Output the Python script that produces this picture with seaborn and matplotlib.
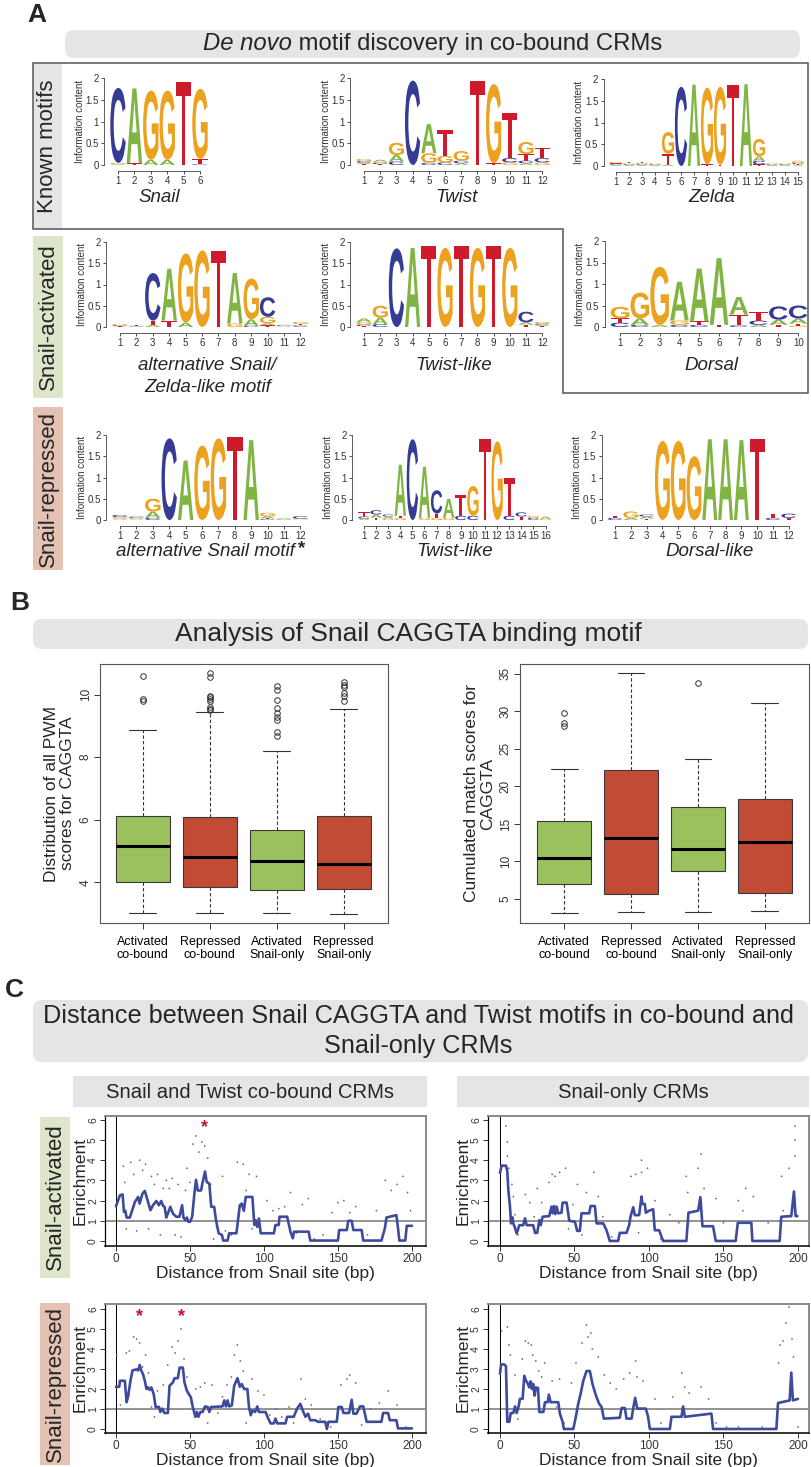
import numpy as np
import pandas as pd
import matplotlib
matplotlib.use("Agg")
import matplotlib.pyplot as plt
import seaborn as sns
from matplotlib.patches import FancyBboxPatch, Rectangle, PathPatch, Polygon
from matplotlib.textpath import TextPath
from matplotlib.font_manager import FontProperties
import matplotlib.transforms as mtransforms

# ------------------------------------------------------------------ data
# Panel A: sequence logos (information content per base and position)
logo_snail = {"A": [0.02, 1.72, 0.12, 0.12, 0.0, 0.0],
              "C": [1.72, 0.0, 0.0, 0.0, 0.0, 0.02],
              "G": [0.03, 0.0, 1.59, 1.59, 0.0, 1.61],
              "T": [0.0, 0.04, 0.0, 0.0, 1.90, 0.12]}
logo_twist = {"A": [0.03, 0.04, 0.15, 0.0, 0.67, 0.0, 0.04, 0.0, 0.0, 0.0, 0.04, 0.0],
              "C": [0.04, 0.03, 0.08, 1.94, 0.05, 0.06, 0.06, 0.0, 0.0, 0.10, 0.06, 0.10],
              "G": [0.05, 0.03, 0.28, 0.0, 0.22, 0.15, 0.22, 0.0, 1.82, 0.06, 0.28, 0.06],
              "T": [0.02, 0.02, 0.0, 0.0, 0.0, 0.60, 0.0, 1.93, 0.04, 1.03, 0.15, 0.24]}
logo_zelda = {"A": [0.02, 0.02, 0.02, 0.02, 0.03, 0.0, 1.87, 0.0, 0.0, 0.0, 1.88, 0.10, 0.02, 0.02, 0.02],
              "C": [0.02, 0.02, 0.02, 0.02, 0.0, 1.82, 0.0, 0.0, 0.0, 0.0, 0.0, 0.08, 0.02, 0.02, 0.03],
              "G": [0.03, 0.02, 0.03, 0.02, 0.50, 0.0, 0.0, 1.76, 1.79, 0.0, 0.0, 0.40, 0.02, 0.02, 0.05],
              "T": [0.02, 0.03, 0.03, 0.02, 0.25, 0.0, 0.0, 0.04, 0.03, 1.87, 0.0, 0.04, 0.02, 0.02, 0.02]}
logo_act_alt = {"A": [0.01, 0.01, 0.05, 1.22, 0.10, 0.0, 0.0, 1.19, 0.15, 0.05, 0.01, 0.01],
                "C": [0.02, 0.01, 1.12, 0.0, 0.0, 0.0, 0.0, 0.0, 0.03, 0.46, 0.02, 0.03],
                "G": [0.03, 0.01, 0.0, 0.0, 1.63, 1.80, 0.0, 0.08, 0.96, 0.15, 0.01, 0.05],
                "T": [0.01, 0.01, 0.10, 0.15, 0.0, 0.0, 1.80, 0.0, 0.0, 0.04, 0.01, 0.03]}
logo_act_twist = {"A": [0.08, 0.15, 0.0, 1.86, 0.0, 0.0, 0.0, 0.0, 0.0, 0.0, 0.06, 0.03],
                  "C": [0.04, 0.07, 1.85, 0.0, 0.0, 0.0, 0.0, 0.0, 0.0, 0.0, 0.25, 0.03],
                  "G": [0.06, 0.28, 0.0, 0.0, 0.0, 1.86, 0.0, 1.86, 0.0, 1.86, 0.0, 0.04],
                  "T": [0.02, 0.0, 0.0, 0.0, 1.90, 0.0, 1.90, 0.0, 1.90, 0.0, 0.05, 0.02]}
logo_dorsal = {"A": [0.0, 0.15, 0.05, 0.90, 1.23, 1.55, 0.41, 0.05, 0.12, 0.12],
               "C": [0.10, 0.05, 0.0, 0.05, 0.05, 0.0, 0.04, 0.10, 0.31, 0.30],
               "G": [0.27, 0.60, 1.35, 0.10, 0.0, 0.0, 0.0, 0.0, 0.0, 0.03],
               "T": [0.10, 0.0, 0.0, 0.0, 0.08, 0.05, 0.25, 0.20, 0.05, 0.05]}
logo_rep_alt = {"A": [0.02, 0.02, 0.15, 0.0, 1.40, 0.0, 0.0, 0.0, 1.88, 0.05, 0.02, 0.0],
                "C": [0.05, 0.03, 0.05, 1.92, 0.0, 0.0, 0.0, 0.0, 0.0, 0.02, 0.01, 0.06],
                "G": [0.04, 0.02, 0.30, 0.0, 0.0, 1.75, 1.92, 0.0, 0.0, 0.08, 0.01, 0.02],
                "T": [0.01, 0.01, 0.0, 0.0, 0.0, 0.0, 0.0, 1.95, 0.0, 0.02, 0.01, 0.01]}
logo_rep_twist = {"A": [0.03, 0.08, 0.05, 1.20, 0.0, 1.20, 0.0, 0.45, 0.0, 0.0, 0.0, 0.0, 0.0, 0.0, 0.0, 0.05],
                  "C": [0.05, 0.10, 0.05, 0.0, 1.90, 0.0, 0.55, 0.0, 0.10, 0.10, 0.0, 0.0, 0.10, 0.10, 0.05, 0.0],
                  "G": [0.0, 0.0, 0.03, 0.05, 0.0, 0.05, 0.05, 0.05, 0.0, 0.70, 0.0, 1.85, 0.0, 0.0, 0.05, 0.03],
                  "T": [0.10, 0.05, 0.0, 0.05, 0.0, 0.0, 0.10, 0.0, 0.50, 0.0, 1.90, 0.0, 0.90, 0.08, 0.0, 0.0]}
logo_rep_dorsal = {"A": [0.0, 0.05, 0.05, 0.0, 0.0, 0.0, 1.90, 1.90, 1.88, 0.0, 0.0, 0.0],
                   "C": [0.05, 0.0, 0.05, 0.0, 0.0, 0.0, 0.0, 0.0, 0.0, 0.0, 0.05, 0.10],
                   "G": [0.0, 0.15, 0.0, 1.86, 1.86, 1.50, 0.0, 0.0, 0.0, 0.0, 0.0, 0.0],
                   "T": [0.05, 0.0, 0.03, 0.0, 0.0, 0.0, 0.0, 0.0, 0.0, 1.90, 0.10, 0.05]}

# Panel B: box plot statistics
box_groups = ["Activated\nco-bound", "Repressed\nco-bound", "Activated\nSnail-only", "Repressed\nSnail-only"]
pwm_whislo = [3.02, 3.02, 3.02, 3.00]
pwm_q1 = [4.00, 3.85, 3.75, 3.78]
pwm_med = [5.15, 4.82, 4.67, 4.60]
pwm_q3 = [6.13, 6.10, 5.68, 6.13]
pwm_whishi = [8.86, 9.46, 8.19, 9.55]
pwm_fliers = [[10.60, 9.85, 9.80],
              [10.70, 10.57, 9.97, 9.92, 9.86, 9.80, 9.60, 9.55, 9.50],
              [10.27, 10.16, 9.84, 9.58, 9.40, 9.27, 9.20, 8.80, 8.68],
              [10.42, 10.32, 10.25, 10.06, 9.95, 9.79]]
cum_whislo = [3.1, 3.2, 3.2, 3.4]
cum_q1 = [7.0, 5.67, 8.7, 5.84]
cum_med = [10.5, 13.1, 11.65, 12.6]
cum_q3 = [15.4, 22.2, 17.3, 18.3]
cum_whishi = [22.3, 35.1, 23.6, 31.1]
cum_fliers = [[29.8, 28.5, 28.0], [], [33.8], []]

# Panel C: enrichment vs distance (running line + individual points)
act_co_bp = [0, 2.7, 4.5, 5.4, 6.3, 7.2, 9.4, 12.8, 15, 16, 17.9, 19.5, 21.7, 23.3, 25, 27.3, 29, 30.6, 31.8, 32.9,
             34, 35.1, 36.7, 38.5, 40.7, 42.9, 44.7, 45.6, 47, 47.9, 48.8, 50.1, 51.5, 53, 54.1, 55.3, 57.5, 58.6,
             60.2, 61.3, 63.1, 64.4, 66.4, 67.6, 69.4, 71.6, 72.5, 75.4, 76.5, 81.4, 83.7, 85, 86.4, 87.7, 92.2,
             93.5, 94.4, 95.5, 96.6, 97.8, 106.7, 107.8, 110, 110.5, 115.7, 117.9, 119.5, 120.4, 130.2, 131.3,
             150, 150.8, 156, 157, 159.3, 160.4, 166, 167.1, 179.4, 181.7, 182.8, 189.5, 190.6, 191.5, 195.5,
             196.5, 200]
act_co_enr = [1.72, 2.26, 2.3, 1.44, 1.5, 1.16, 1.16, 1.93, 2.18, 1.85, 2.34, 2.48, 1.93, 1.52, 1.77, 1.98, 1.77,
              1.98, 1.74, 1.69, 1.16, 1.36, 1.69, 1.36, 1.2, 1.2, 1.77, 1.16, 1.03, 1.16, 0.95, 0.95, 1.2, 2.34,
              3.03, 2.5, 2.5, 2.92, 3.44, 2.92, 2.84, 1.69, 1.69, 1.03, 0.38, 0.3, 0.02, 0.02, 0.38, 0.38, 1.77,
              1.85, 1.49, 2.18, 2.18, 0.79, 1.03, 0.7, 1.11, 0.38, 0.38, 0.79, 0.79, 1.2, 1.2, 0.46, 0.13, 0.46,
              0.46, 0.02, 0.02, 0.54, 0.54, 1.0, 1.0, 0.54, 0.54, 0.02, 0.02, 0.62, 1.16, 1.28, 0.62, 0.02, 0.02,
              0.75, 0.75]
act_co_pts_bp = [5, 6, 7, 10, 12, 14, 16, 18, 20, 22, 24, 26, 28, 30, 32, 34, 36, 38, 40, 42, 44, 47, 48, 50, 52,
                 54, 56, 58, 60, 62, 64, 66, 68, 72, 74, 78, 82, 86, 88, 90, 92, 95, 98, 102, 106, 110, 114, 118,
                 122, 126, 130, 134, 140, 146, 150, 154, 158, 162, 166, 170, 176, 182, 186, 190, 194, 197, 199]
act_co_pts_enr = [3.7, 2.9, 0.6, 3.9, 3.3, 0.5, 4.0, 3.5, 3.8, 0.6, 3.2, 2.8, 3.3, 0.3, 2.6, 3.0, 2.6, 3.1, 0.3,
                  2.8, 0.2, 2.5, 3.6, 2.9, 4.8, 5.2, 4.4, 4.9, 4.7, 4.1, 2.8, 0.1, 0.7, 3.2, 0.5, 0.3, 3.9, 3.8,
                  2.5, 3.3, 0.6, 3.2, 0.4, 2.0, 1.5, 1.6, 1.7, 2.4, 0.4, 1.8, 2.1, 0.1, 0.3, 1.4, 1.9, 2.0, 1.4,
                  1.7, 0.5, 0.3, 1.5, 3.0, 2.5, 2.8, 3.2, 2.4, 1.5]

act_only_bp = [0, 1.1, 4, 4.9, 5.6, 6.7, 7.4, 8.3, 8.9, 10, 11.2, 13, 15.6, 16.8, 17.9, 22.3, 23.5, 25, 26.4, 27.3,
               28.6, 33, 34.6, 35.3, 36.2, 37.1, 38, 39.1, 41.3, 42, 44.7, 46.5, 50.3, 51.8, 53.6, 54.7, 59.9, 60.8,
               63.7, 64.8, 69.3, 71.5, 73.7, 79.3, 80.4, 84.9, 86.7, 87.6, 89.4, 90.5, 93.4, 95, 95.6, 97.2, 97.9,
               100.1, 102.8, 103.9, 106.8, 109.5, 125.1, 126.5, 133, 134.5, 135.9, 143, 144.8, 158.2, 159.6, 168.7,
               169.4, 187.7, 188.8, 195.5, 197.3, 198.4, 199.6]
act_only_enr = [3.37, 3.73, 3.73, 3.45, 2.53, 1.7, 0.87, 1.17, 0.87, 0.67, 0.37, 0.78, 0.78, 1.12, 0.78, 0.78,
                0.4, 0.4, 1.03, 0.78, 1.2, 1.23, 1.7, 1.37, 1.73, 1.33, 1.7, 1.37, 1.4, 1.9, 1.9, 1.0, 0.95, 0.5,
                0.5, 1.37, 1.37, 1.73, 1.73, 0.87, 0.87, 0.53, 0.0, 0.0, 0.4, 0.4, 0.78, 1.2, 1.67, 1.28, 1.28,
                2.2, 1.83, 1.83, 1.4, 1.5, 1.57, 0.53, 0.53, 0.0, 0.0, 1.4, 1.5, 2.17, 0.73, 0.73, 0.0, 0.0, 0.9,
                0.9, 0.0, 0.0, 1.2, 1.23, 2.45, 1.23, 1.23]
act_only_pts_bp = [4, 5, 5, 6, 8, 9, 10, 12, 17, 20, 23, 25, 28, 33, 35, 37, 40, 44, 46, 49, 52, 55, 58, 63, 66,
                   69, 75, 80, 88, 91, 93, 95, 95, 99, 104, 108, 114, 120, 125, 126, 133, 135, 137, 145, 150, 160,
                   163, 165, 170, 180, 189, 190, 194, 198, 198, 198]
act_only_pts_enr = [5.7, 4.9, 4.2, 3.6, 2.8, 2.2, 1.3, 0.3, 2.3, 1.9, 1.2, 2.6, 1.9, 2.9, 3.3, 3.2, 3.4, 3.6, 0.6,
                    1.8, 2.8, 0.3, 2.4, 3.4, 2.2, 1.2, 0.2, 0.1, 3.2, 3.3, 0.4, 3.4, 4.0, 3.6, 2.0, 0.1, 1.3, 0.9,
                    3.2, 2.4, 3.6, 4.3, 2.6, 2.1, 0.9, 2.0, 1.5, 2.6, 2.2, 0.9, 3.2, 1.5, 3.6, 4.2, 5.0, 5.7]

rep_co_bp = [0, 2.2, 2.7, 6, 7.2, 8.3, 9.8, 11.2, 13.9, 15, 16.1, 17.2, 18.3, 19.5, 20.6, 21.7, 22.8, 23.9, 25.5,
             26.8, 29.1, 30, 31.3, 32.7, 35.1, 36.2, 38.5, 39.6, 41.8, 43, 45.2, 46.3, 47.9, 49.2, 50.6, 51.9, 53.7,
             54.6, 55.7, 57, 58.6, 60.2, 62, 63.1, 64.2, 72, 73.2, 74.3, 75.4, 76.5, 78.3, 79.9, 82.1, 83.7, 85,
             86.6, 88.8, 89.9, 91.1, 92.2, 94, 95.5, 96.6, 101.1, 102.9, 104.5, 106.7, 107.8, 109, 114.5, 115.7,
             120.1, 122.4, 124.6, 126.2, 128, 129.8, 131.3, 134.7, 136.5, 141.4, 142.5, 143.6, 149.2, 150.3, 152.6,
             153.7, 157.5, 159.3, 160.4, 162.6, 164.9, 167.1, 169.4, 179.4, 180.5, 183.9, 185, 189.5, 190.6, 200]
rep_co_enr = [2.11, 2.11, 2.41, 2.41, 1.34, 1.67, 2.41, 2.93, 2.98, 2.93, 3.2, 2.9, 2.74, 2.41, 2.0, 2.08, 1.95,
              2.08, 1.75, 1.1, 1.1, 0.85, 1.02, 0.8, 0.8, 2.16, 2.33, 2.54, 2.54, 3.07, 3.07, 2.33, 1.92, 1.75,
              1.59, 1.1, 0.61, 0.85, 0.61, 0.85, 0.85, 1.13, 1.1, 0.85, 1.1, 1.13, 1.43, 1.13, 1.43, 1.13, 1.18,
              2.16, 2.54, 2.11, 2.25, 2.0, 2.0, 1.1, 0.69, 0.93, 0.85, 1.13, 0.85, 0.85, 0.52, 0.28, 0.28, 0.52,
              0.28, 0.28, 0.61, 0.61, 1.02, 1.26, 0.93, 0.61, 0.77, 0.44, 0.44, 0.36, 0.36, 0.0, 0.36, 0.36, 1.1,
              1.1, 0.8, 0.8, 1.46, 0.77, 0.77, 1.13, 1.13, 0.36, 0.36, 0.8, 0.8, 0.44, 0.44, 0.03, 0.03]
rep_co_pts_bp = [0.5, 3, 7, 9, 12, 14, 16, 18, 20, 22, 24, 26, 28, 32, 35, 38, 40, 42, 44, 46, 48, 51, 54, 57, 60,
                 62, 65, 69, 72, 75, 78, 80, 82, 84, 86, 88, 92, 96, 100, 104, 108, 112, 117, 120, 125, 128, 132,
                 138, 145, 152, 156, 158, 162, 166, 172, 178, 184, 190, 196]
rep_co_pts_enr = [3.7, 1.2, 3.8, 3.9, 4.6, 4.5, 4.3, 3.1, 3.7, 2.8, 1.1, 0.6, 1.9, 2.2, 3.2, 4.1, 3.8, 4.4, 5.0,
                  3.5, 2.6, 1.3, 2.0, 2.1, 2.3, 0.3, 2.2, 0.8, 1.6, 2.2, 2.6, 3.7, 4.2, 3.4, 2.9, 0.3, 2.5, 1.9,
                  1.7, 0.7, 1.0, 0.6, 1.1, 0.3, 2.5, 1.5, 1.2, 0.5, 0.1, 2.2, 2.5, 2.7, 2.3, 0.2, 1.0, 1.3, 1.9,
                  1.2, 0.1]

rep_only_bp = [0, 0.7, 2.7, 4, 4.9, 6.3, 7.2, 8.9, 10.1, 11.2, 12.5, 13.4, 15.2, 16.3, 17.4, 18.3, 19.7, 20.6,
               21.5, 22.3, 23.2, 24.1, 25.5, 26.4, 29.1, 30.2, 32, 32.8, 34, 39.1, 40.2, 42, 42.9, 49.2, 50.9, 52.5,
               54.1, 55.9, 58.1, 60.3, 62.1, 63.7, 64.8, 66.6, 68.2, 69.7, 80.4, 81.6, 83.8, 84.9, 88.3, 89.4, 90.7,
               92.1, 97.9, 99.4, 100.6, 114, 115.1, 121.8, 122.9, 124.1, 141.9, 143, 185.5, 186.6, 194.4, 195.5,
               196.6, 198.9, 200]
rep_only_enr = [2.77, 3.23, 3.23, 3.15, 0.36, 0.36, 0.8, 0.8, 1.13, 0.8, 1.13, 1.51, 1.51, 2.66, 2.41, 2.33, 2.08,
                2.38, 2.0, 2.25, 1.67, 2.08, 2.05, 0.85, 0.85, 1.34, 1.34, 1.72, 1.34, 1.34, 0.77, 0.36, 0.0, 0.0,
                0.61, 1.26, 1.75, 2.41, 2.9, 2.9, 2.25, 1.84, 1.59, 1.26, 1.1, 0.52, 0.56, 1.05, 1.05, 0.52, 0.52,
                1.02, 1.56, 1.02, 1.02, 0.61, 0.0, 0.0, 0.61, 0.61, 1.13, 0.61, 0.77, 0.0, 0.0, 1.3, 1.43, 2.82,
                1.43, 1.48, 1.51]
rep_only_pts_bp = [1, 5, 6, 7, 10, 12, 15, 17, 19, 21, 22, 24, 26, 28, 30, 33, 35, 38, 40, 43, 48, 51, 55, 58, 59,
                   61, 62, 66, 70, 74, 78, 83, 87, 91, 92, 96, 100, 104, 108, 116, 122, 124, 127, 135, 140, 145,
                   152, 160, 176, 187, 188, 190, 192, 194, 196, 197, 200]
rep_only_pts_enr = [4.9, 5.1, 4.2, 3.7, 2.7, 0.5, 3.5, 4.4, 4.3, 4.2, 3.7, 3.4, 2.9, 2.6, 3.3, 1.7, 2.4, 1.1, 2.5,
                    0.3, 2.3, 3.3, 4.3, 5.2, 4.6, 4.8, 4.0, 3.6, 2.7, 2.3, 2.0, 2.5, 2.8, 3.4, 2.6, 2.4, 0.1, 1.5,
                    0.3, 1.6, 2.8, 2.1, 1.8, 2.1, 1.5, 0.3, 0.1, 0.1, 0.1, 3.3, 4.2, 4.4, 5.3, 6.1, 4.5, 3.6, 0.1]

# ------------------------------------------------------------------ style
sns.set_theme(style="ticks")
plt.rcParams["font.family"] = ["Liberation Sans", "DejaVu Sans"]
plt.rcParams["axes.linewidth"] = 0.8

W, H = 812, 1467
fig = plt.figure(figsize=(W / 100, H / 100), dpi=100)
fig.patch.set_facecolor("white")
bg = fig.add_axes([0, 0, 1, 1])
bg.set_xlim(0, W)
bg.set_ylim(H, 0)
bg.axis("off")


def px_axes(x0, y0, w, h):
    a = fig.add_axes([x0 / W, 1 - (y0 + h) / H, w / W, h / H])
    a.patch.set_alpha(0)
    return a


def rbox(x0, y0, x1, y1, color, r=9):
    bg.add_patch(FancyBboxPatch((x0, y0), x1 - x0, y1 - y0,
                                boxstyle=f"round,pad=0,rounding_size={r}", fc=color, ec="none", zorder=0))


GRAY = "#e5e5e5"
GREEN_LBL = "#dde6ca"
PINK_LBL = "#e4c2b3"

# ---- panel labels
for lab, (x, y) in {"A": (37, 15), "B": (20, 603), "C": (14, 990)}.items():
    bg.text(x, y, lab, fontsize=19, fontweight="bold", ha="center", va="center")

# ------------------------------------------------------------------ panel A
rbox(65, 30, 800, 58, GRAY)
fig.canvas.draw()
rend = fig.canvas.get_renderer()
t1 = bg.text(0, 44, "De novo", fontsize=17.2, style="italic", ha="left", va="center")
t2 = bg.text(0, 44, " motif discovery in co-bound CRMs", fontsize=17.2, ha="left", va="center")
w1 = t1.get_window_extent(rend).width
w2 = t2.get_window_extent(rend).width
xs = 433 - (w1 + w2) / 2
t1.set_x(xs)
t2.set_x(xs + w1)

# outline around known motifs + Dorsal
bg.add_patch(Polygon([(33, 63), (808, 63), (808, 393), (563, 393), (563, 229), (33, 229)],
                     closed=True, fill=False, ec="#555555", lw=1.1, zorder=1))
bg.add_patch(Rectangle((33.5, 63.5), 29, 165, fc=GRAY, ec="none", zorder=0.5))
bg.add_patch(Rectangle((33, 236), 30, 162, fc=GREEN_LBL, ec="none"))
bg.add_patch(Rectangle((33, 407), 30, 163, fc=PINK_LBL, ec="none"))
bg.text(48, 146, "Known motifs", rotation=90, fontsize=16, ha="center", va="center")
bg.text(48, 317, "Snail-activated", rotation=90, fontsize=16, ha="center", va="center")
bg.text(48, 489, "Snail-repressed", rotation=90, fontsize=16, ha="center", va="center")

LOGO_COLORS = {"A": "#80b543", "C": "#363c96", "G": "#eba21e", "T": "#cf1a2c"}
LOGO_FP = FontProperties(family="Liberation Sans", weight="bold")
GLYPHS = {b: TextPath((0, 0), b, size=1, prop=LOGO_FP) for b in "ACGT"}


def draw_logo(ax, mat):
    n = len(mat["A"])
    for i in range(n):
        stack = sorted([(mat[b][i], b) for b in "ACGT" if mat[b][i] > 0])
        y0 = 0.0
        for h, b in stack:
            tp = GLYPHS[b]
            bb = tp.get_extents()
            w = 0.94
            tr = (mtransforms.Affine2D().translate(-bb.x0, -bb.y0)
                  .scale(w / bb.width, h / bb.height).translate(i + 1 - w / 2, y0))
            ax.add_patch(PathPatch(tr.transform_path(tp), fc=LOGO_COLORS[b], ec="none", lw=0))
            y0 += h
    ax.set_xlim(0.5, n + 0.5)
    ax.set_ylim(0, 2)
    sns.despine(ax=ax)
    ax.spines["left"].set_position(("outward", 4))
    ax.spines["left"].set_bounds(0, 2)
    ax.spines["bottom"].set_position(("outward", 4))
    ax.spines["bottom"].set_bounds(1, n)
    for s in ("left", "bottom"):
        ax.spines[s].set_linewidth(0.6)
        ax.spines[s].set_color("#444444")
    ax.set_yticks([0, 0.5, 1, 1.5, 2])
    ax.set_yticklabels(["0", "0.5", "1", "1.5", "2"])
    ax.set_xticks(range(1, n + 1))
    ax.set_xticklabels([str(k) for k in range(1, n + 1)])
    ax.tick_params(labelsize=7, length=2.5, width=0.6, pad=1.5, colors="#333333")
    ax.set_ylabel("Information content", fontsize=7, labelpad=0.5, color="#333333")


def logo_axes(x_first, spacing, n, y_top, y_zero):
    return px_axes(x_first - spacing / 2, y_top, n * spacing, y_zero - y_top)


draw_logo(logo_axes(118, 16.4, 6, 78, 165), logo_snail)
draw_logo(logo_axes(364, 16.2, 12, 78, 165), logo_twist)
draw_logo(logo_axes(616, 13.0, 15, 79, 166), logo_zelda)
draw_logo(logo_axes(120, 16.4, 12, 242, 327), logo_act_alt)
draw_logo(logo_axes(364, 16.2, 12, 242, 327), logo_act_twist)
draw_logo(logo_axes(620, 19.8, 10, 241, 327), logo_dorsal)
draw_logo(logo_axes(120, 16.4, 12, 435, 520), logo_rep_alt)
draw_logo(logo_axes(364, 12.1, 16, 435, 520), logo_rep_twist)
draw_logo(logo_axes(615, 15.8, 12, 435, 520), logo_rep_dorsal)

LFS = 13.5
bg.text(159, 197, "Snail", style="italic", fontsize=LFS, ha="center", va="center")
bg.text(457, 197, "Twist", style="italic", fontsize=LFS, ha="center", va="center")
bg.text(712, 197, "Zelda", style="italic", fontsize=LFS, ha="center", va="center")
bg.text(207, 365, "alternative Snail/", style="italic", fontsize=LFS, ha="center", va="center")
bg.text(208, 387, "Zelda-like motif", style="italic", fontsize=LFS, ha="center", va="center")
bg.text(454, 365, "Twist-like", style="italic", fontsize=LFS, ha="center", va="center")
bg.text(711, 365, "Dorsal", style="italic", fontsize=LFS, ha="center", va="center")
ta = bg.text(205, 552, "alternative Snail motif", style="italic", fontsize=LFS, ha="center", va="center")
wa = ta.get_window_extent(rend).width
bg.text(205 + wa / 2 + 4, 549, "*", fontsize=LFS, fontweight="bold", ha="left", va="center")
bg.text(455, 552, "Twist-like", style="italic", fontsize=LFS, ha="center", va="center")
bg.text(710, 552, "Dorsal-like", style="italic", fontsize=LFS, ha="center", va="center")

# ------------------------------------------------------------------ panel B
rbox(33, 619, 808, 649, GRAY)
bg.text(408, 634, "Analysis of Snail CAGGTA binding motif", fontsize=19, ha="center", va="center")

BOX_COLORS = ["#9bc15f", "#c24b36", "#9bc15f", "#c24b36"]


def draw_boxes(ax, lo, q1, med, q3, hi, fl):
    stats = [dict(whislo=lo[i], q1=q1[i], med=med[i], q3=q3[i], whishi=hi[i], fliers=fl[i])
             for i in range(len(box_groups))]
    res = ax.bxp(stats, positions=range(len(stats)), widths=0.8, capwidths=0.4, patch_artist=True,
                 boxprops=dict(edgecolor="#3a3a3a", linewidth=0.8),
                 medianprops=dict(color="black", linewidth=2.2),
                 whiskerprops=dict(color="#333333", linewidth=0.8, linestyle=(0, (3, 2))),
                 capprops=dict(color="#333333", linewidth=0.8),
                 flierprops=dict(marker="o", markerfacecolor="none", markeredgecolor="#333333",
                                 markersize=4, markeredgewidth=0.7))
    for patch, c in zip(res["boxes"], BOX_COLORS):
        patch.set_facecolor(c)
    for s in ax.spines.values():
        s.set_color("#555555")
        s.set_linewidth(0.8)
    ax.set_xticks(range(len(box_groups)))
    ax.set_xticklabels(box_groups, fontsize=9, linespacing=1.15)
    ax.tick_params(axis="both", length=4, width=0.7, colors="#333333")
    ax.tick_params(axis="x", pad=5, labelcolor="black")
    ax.tick_params(axis="y", labelsize=8.5, pad=2)


axb1 = px_axes(100, 664, 288, 259)
draw_boxes(axb1, pwm_whislo, pwm_q1, pwm_med, pwm_q3, pwm_whishi, pwm_fliers)
axb1.set_xlim(-0.64, 3.66)
axb1.set_ylim(2.7, 10.98)
axb1.set_yticks([4, 6, 8, 10])
axb1.set_yticklabels(["4", "6", "8", "10"], rotation=90, va="center")
axb1.set_ylabel("Distribution of all PWM\nscores for CAGGTA", fontsize=12.5, labelpad=3, linespacing=1.1)

axb2 = px_axes(520, 664, 289, 259)
draw_boxes(axb2, cum_whislo, cum_q1, cum_med, cum_q3, cum_whishi, cum_fliers)
axb2.set_xlim(-0.66, 3.66)
axb2.set_ylim(1.8, 36.3)
axb2.set_yticks([5, 10, 15, 20, 25, 30, 35])
axb2.set_yticklabels(["5", "10", "15", "20", "25", "30", "35"], rotation=90, va="center")
axb2.set_ylabel("Cumulated match scores for\nCAGGTA", fontsize=12.5, labelpad=3, linespacing=1.1)

# ------------------------------------------------------------------ panel C
rbox(33, 1000, 808, 1062, GRAY)
bg.text(419, 1016, "Distance between Snail CAGGTA and Twist motifs in co-bound and",
        fontsize=18.2, ha="center", va="center")
bg.text(418, 1046, "Snail-only CRMs", fontsize=18.2, ha="center", va="center")
bg.add_patch(Rectangle((73, 1076), 354, 31, fc=GRAY, ec="none"))
bg.add_patch(Rectangle((457, 1076), 352, 31, fc=GRAY, ec="none"))
bg.text(250, 1092, "Snail and Twist co-bound CRMs", fontsize=14.6, ha="center", va="center")
bg.text(633, 1092, "Snail-only CRMs", fontsize=14.6, ha="center", va="center")
bg.add_patch(Rectangle((40, 1117), 30, 161, fc=GREEN_LBL, ec="none"))
bg.add_patch(Rectangle((40, 1303), 30, 162, fc=PINK_LBL, ec="none"))
bg.text(55, 1197, "Snail-activated", rotation=90, fontsize=16, ha="center", va="center")
bg.text(55, 1384, "Snail-repressed", rotation=90, fontsize=16, ha="center", va="center")


def enrich_panel(x0, y0, w, h, xlim, ylim, lx, ly, px, py, stars):
    ax = px_axes(x0, y0, w, h)
    sns.scatterplot(x=px, y=py, ax=ax, s=1.6, color="#6a6a6a", edgecolor="none", linewidth=0, zorder=2)
    ax.axhline(1, color="#8a8a8a", lw=1.3, zorder=1)
    ax.axvline(0, color="black", lw=0.7, zorder=1)
    sns.lineplot(x=lx, y=ly, ax=ax, color="#3e4b9c", lw=1.9, sort=False, estimator=None, zorder=3)
    for sx in stars:
        ax.text(sx, 5.6, "*", color="#c8102e", fontsize=13, fontweight="bold", ha="center", va="center")
    ax.set_xlim(*xlim)
    ax.set_ylim(*ylim)
    ax.set_xticks([0, 50, 100, 150, 200])
    ax.set_xticklabels(["0", "50", "100", "150", "200"], fontsize=8.5)
    ax.set_yticks(range(7))
    ax.set_yticklabels([str(k) for k in range(7)], fontsize=7.5, rotation=90, va="center")
    ax.tick_params(length=3.5, width=0.7, pad=1.5, colors="#333333")
    ax.spines["left"].set_color("black")
    ax.spines["bottom"].set_color("black")
    ax.spines["left"].set_linewidth(0.9)
    ax.spines["bottom"].set_linewidth(1.1)
    for s in ("top", "right"):
        ax.spines[s].set_color("#8a8a8a")
        ax.spines[s].set_linewidth(1.4)
    ax.set_xlabel("Distance from Snail site (bp)", fontsize=12.5, labelpad=1)
    ax.set_ylabel("Enrichment", fontsize=12.5, labelpad=0.5)
    return ax


enrich_panel(105, 1116, 321, 130, (-7.4, 209.5), (-0.25, 6.19),
             act_co_bp, act_co_enr, act_co_pts_bp, act_co_pts_enr, [60])
enrich_panel(488, 1116, 321, 130, (-8.05, 207.4), (-0.25, 6.19),
             act_only_bp, act_only_enr, act_only_pts_bp, act_only_pts_enr, [])
enrich_panel(105, 1304, 321, 129, (-7.4, 209.5), (-0.2, 6.25),
             rep_co_bp, rep_co_enr, rep_co_pts_bp, rep_co_pts_enr, [16, 44.5])
enrich_panel(488, 1304, 321, 129, (-8.05, 207.4), (-0.2, 6.25),
             rep_only_bp, rep_only_enr, rep_only_pts_bp, rep_only_pts_enr, [])

fig.savefig("out.png", dpi=100, facecolor="white")
